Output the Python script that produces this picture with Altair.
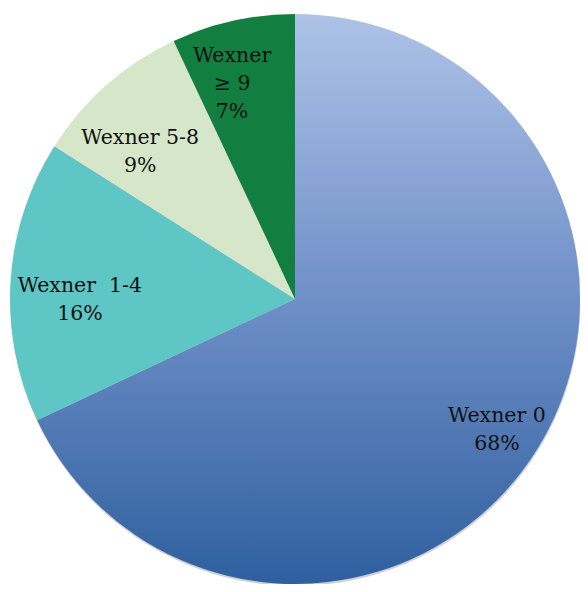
import altair as alt
import pandas as pd
import math

categories = ["Wexner 0", "Wexner\u00a0 1-4", "Wexner 5-8", "Wexner\n≥ 9"]
percents = [68, 16, 9, 7]
colors = ["#6f8fc8", "#5ec6c4", "#d6e7c9", "#127e40"]

df = pd.DataFrame({
    "cat": categories,
    "pct": percents,
    "idx": list(range(len(categories))),
    "label": [f"{c}\n{p}%" for c, p in zip(categories, percents)],
})

gradient = alt.Gradient(
    gradient="linear",
    stops=[
        alt.GradientStop(color="#aec2e6", offset=0),
        alt.GradientStop(color="#7594cb", offset=0.45),
        alt.GradientStop(color="#2f5f9f", offset=1),
    ],
    x1=0, x2=0, y1=0, y2=1,
)

W, H = 572, 576
R = 285
CX, CY = 287, 291

theta_scale = alt.Scale(domain=[0, 100], range=[0, 2 * math.pi])

stacked = alt.Chart(df).transform_stack(
    stack="pct", as_=["s0", "s1"], groupby=[], sort=[alt.SortField("idx")]
).transform_calculate(mid="(datum.s0 + datum.s1) / 2")

shadow = alt.Chart(pd.DataFrame({"v": [1]})).mark_arc(
    outerRadius=R, theta=0, theta2=2 * math.pi, fill="#c4c4c4", opacity=0.8
).encode(x=alt.value(CX + 0.5), y=alt.value(CY + 2))

arcs = stacked.mark_arc(outerRadius=R, stroke=None).encode(
    x=alt.value(CX), y=alt.value(CY),
    theta=alt.Theta("s0:Q", scale=theta_scale),
    theta2="s1:Q",
    fill=alt.condition(
        alt.datum.cat == "Wexner 0",
        alt.value(gradient),
        alt.Fill("cat:N", scale=alt.Scale(domain=categories, range=colors), legend=None),
    ),
)

# label nudges (style only): dx, dy per slice label
nudges = [(14.5, -1.5), (6.5, 0.5), (-8, 6), (-14.5, -26)]
label_layers = []
for i, (ndx, ndy) in enumerate(nudges):
    label_layers.append(
        stacked.transform_filter(alt.datum.idx == i).mark_text(
            radius=222, font="DejaVu Serif", fontSize=20.5, color="#111111",
            lineBreak="\n", lineHeight=28, align="center", baseline="middle",
            dx=ndx, dy=ndy,
        ).encode(
            x=alt.value(CX), y=alt.value(CY),
            theta=alt.Theta("mid:Q", scale=theta_scale, stack=None),
            text="label:N",
        )
    )

chart = alt.layer(shadow, arcs, *label_layers).properties(
    width=W, height=H,
    autosize=alt.AutoSizeParams(type="none"),
    padding=0,
).configure_view(stroke=None)

chart.save("out.html", embed_options={"renderer": "svg", "actions": False})
